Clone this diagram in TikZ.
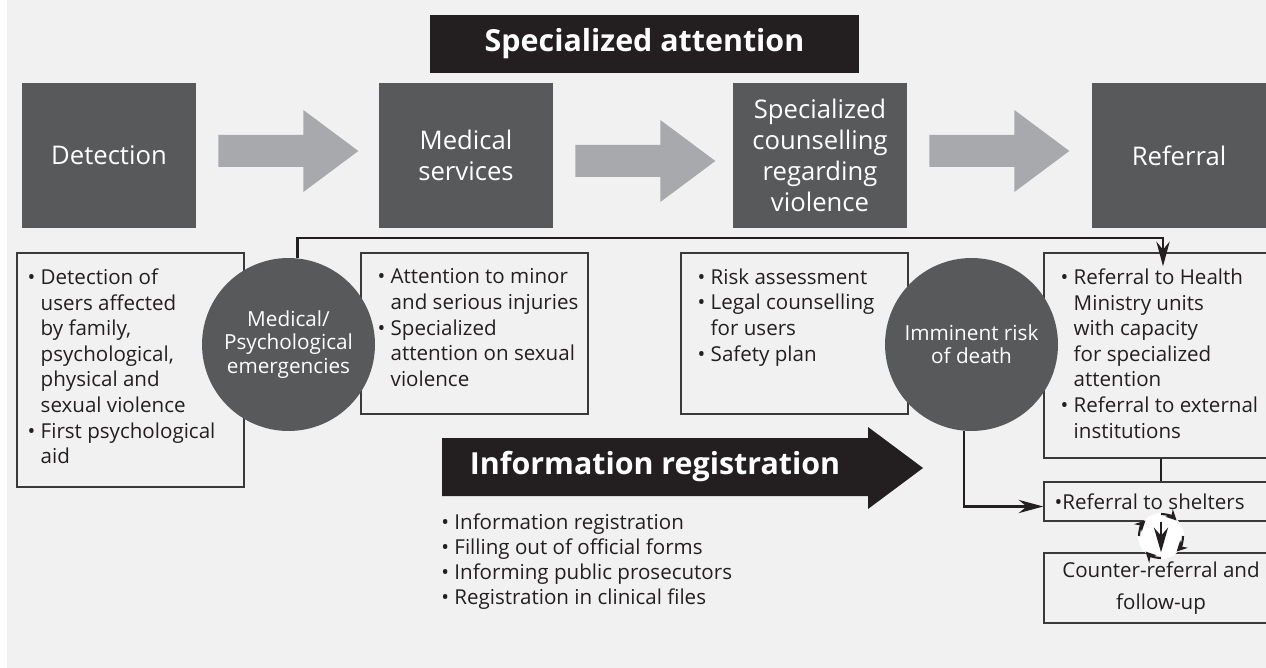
\documentclass[tikz,border=0pt]{standalone}
\usepackage{fontspec}
\setmainfont{Open Sans}
\usepackage{tikz}
\usetikzlibrary{positioning}
\usetikzlibrary{calc}
\usetikzlibrary{fit}
\usetikzlibrary{arrows.meta}
\definecolor{pagegray}{HTML}{F1F1F1}
\definecolor{stagegray}{HTML}{58595B}
\definecolor{flowgray}{HTML}{A7A9AC}
\definecolor{inkblack}{HTML}{231F20}
\definecolor{rulegray}{HTML}{3A3A3A}
\newcommand{\bulitem}{\textbullet\ }
\newcommand{\bulcont}{\hphantom{\textbullet\ }}
\tikzset{
  stage/.style={fill=stagegray, text=white, minimum width=3.48cm, minimum height=2.9cm, align=center, inner sep=0pt, font=\fontsize{14.6}{17.6}\selectfont},
  banner/.style={text=white, inner sep=0pt, font=\bfseries\fontsize{17.3}{20}\selectfont},
  infobox/.style={draw=rulegray, line width=0.8pt, fill=pagegray, inner sep=0pt},
  listtext/.style={text=inkblack, align=left, inner sep=0pt, anchor=north west, font=\fontsize{11.7}{14.6}\selectfont},
  bubble/.style={circle, fill=stagegray, text=white, minimum size=3.46cm, inner sep=0pt, align=center, font=\fontsize{11.8}{13.3}\selectfont},
  link/.style={draw=inkblack, line width=1.6pt, -{Stealth[length=14pt, width=7.5pt]}},
  plainlink/.style={draw=inkblack, line width=1.6pt},
  cyclearrow/.style={draw=inkblack, line width=1.2pt, -{Stealth[length=6pt, width=6pt]}}
}
\begin{document}
\begin{tikzpicture}[x=0.02cm, y=-0.02cm]
\useasboundingbox (0,0) rectangle (1266,668);
\fill[white] (0,0) rectangle (1266,668);
\fill[pagegray] (7,0) rectangle (1266,668);

\node[banner, fill=inkblack, minimum width=8.58cm, minimum height=1.16cm] (title) at (644.5,44) {Specialized attention};

\node[stage] (detect) at (109,155.5) {Detection};
\node[stage] (medic) at (466,155.5) {Medical\\services};
\node[stage] (counsel) at (820,155.5) {Specialized\\counselling\\regarding\\violence};
\node[stage] (refer) at (1179,155.5) {Referral};

\foreach \src/\dy in {detect/0, medic/10, counsel/0}
  \fill[flowgray] ([shift={(22,-20.5+\dy)}]\src.east) -- ++(85,0) -- ++(0,-25) -- ++(55,41) -- ++(-55,41) -- ++(0,-25) -- ++(-85,0) -- cycle;

\node[infobox, fit={(17,253) (244,487)}] (b1) {};
\node[infobox, fit={(361,253) (588,414)}] (b2) {};
\node[infobox, fit={(681,253) (908,414)}] (b3) {};
\node[infobox, fit={(1044,253) (1290,458)}] (b4) {};
\node[infobox, fit={(1044,482) (1290,521)}] (b5) {};
\node[infobox, fit={(1044,553) (1290,623)}] (b6) {};
\coordinate (cyc) at (1161,536);
\coordinate (topbend) at (1163,238);

\node[listtext] (t1) at ([shift={(11,16)}]b1.north west) {\bulitem Detection of\\ \bulcont users affected\\ \bulcont by family,\\ \bulcont psychological,\\ \bulcont physical and\\ \bulcont sexual violence\\ \bulitem First psychological\\ \bulcont aid};
\node[listtext] (t2) at ([shift={(17,16)}]b2.north west) {\bulitem Attention to minor\\ \bulcont and serious injuries\\ \bulitem Specialized\\ \bulcont attention on sexual\\ \bulcont violence};
\node[listtext] (t3) at ([shift={(17,16)}]b3.north west) {\bulitem Risk assessment\\ \bulitem Legal counselling\\ \bulcont for users\\ \bulitem Safety plan};
\node[listtext] (t4) at ([shift={(17,16)}]b4.north west) {\bulitem Referral to Health\\ \bulcont Ministry units\\ \bulcont with capacity\\ \bulcont for specialized\\ \bulcont attention\\ \bulitem Referral to external\\ \bulcont institutions};
\node[listtext, anchor=west] (t5) at ([xshift=0.22cm]b5.west) {\textbullet Referral to shelters};
\node[listtext, anchor=center, align=center, font=\fontsize{11.7}{18.2}\selectfont] (t6) at (b6.center -| cyc) {Counter-referral and\\follow-up};

\node[bubble] (c1) at (288.5,344.5) {Medical/\\Psychological\\emergencies};
\node[bubble] (c2) at (971.5,344.5) {Imminent risk\\of death};

\draw[link] (c1.84) |- (topbend) -- ($(topbend |- b4.north)+(0,14)$);
\draw[link] (c2.265) |- ($(b5.west)+(0,5)$);
\draw[plainlink] (b4.south -| cyc) -- (b5.north -| cyc);

\fill[white] (cyc) circle[radius=0.46cm];
\draw[link, -{Stealth[length=14pt, width=8pt]}] (b5.south -| cyc) -- (b6.north -| cyc);
\begin{scope}[shift={(cyc)}, x=1cm, y=1cm]
\foreach \a in {90,0,-90,180}
  \draw[cyclearrow] (\a:0.44) arc[start angle=\a, end angle=\a-45, radius=0.44];
\end{scope}

\fill[inkblack] (442,438) -- (868,438) -- (868,427) -- (923,468) -- (868,509) -- (868,496) -- (442,496) -- cycle;
\node[banner] (infotitle) at (655,467) {Information registration};
\node[listtext, font=\fontsize{11.7}{14.4}\selectfont] (reglist) at (441,513) {\bulitem Information registration\\ \bulitem Filling out of official forms\\ \bulitem Informing public prosecutors\\ \bulitem Registration in clinical files};
\end{tikzpicture}
\end{document}
